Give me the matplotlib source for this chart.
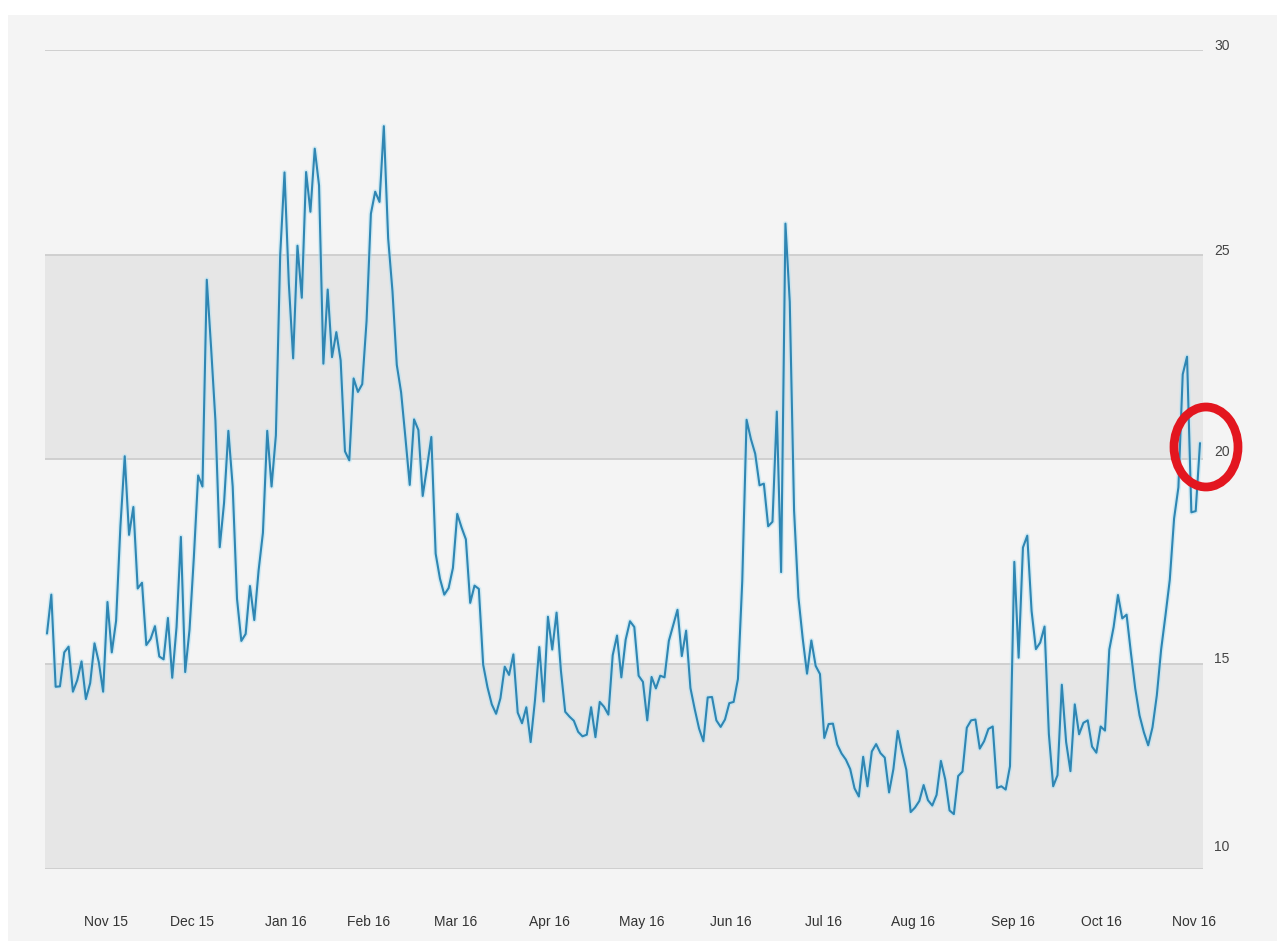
import matplotlib
matplotlib.use("Agg")
import matplotlib.pyplot as plt
from matplotlib.patches import Ellipse, Rectangle
from matplotlib.transforms import blended_transform_factory
import numpy as np

# Daily index closes, one list per calendar month (trading days only)
oct15 = [15.75, 16.70, 14.45, 14.46, 15.29, 15.43, 14.33, 14.61, 15.07]
nov15 = [14.15, 14.54, 15.51, 15.05, 14.33, 16.52, 15.29, 16.06, 18.37, 20.08,
         18.16, 18.84, 16.85, 16.99, 15.47, 15.62, 15.93, 15.19, 15.12, 16.13]
dec15 = [14.67, 15.91, 18.11, 14.81, 15.84, 17.60, 19.61, 19.34, 24.39, 22.73,
         20.95, 17.86, 18.94, 20.70, 19.34, 16.60, 15.57, 15.74, 16.91, 16.08,
         17.29, 18.21]
jan16 = [20.70, 19.34, 20.59, 24.99, 27.01, 24.30, 22.47, 25.22, 23.95, 27.02,
         26.05, 27.59, 26.69, 22.34, 24.15, 22.50, 23.11, 22.42, 20.20]
feb16 = [19.98, 21.98, 21.65, 21.84, 23.38, 26.00, 26.54, 26.29, 28.14, 25.40,
         24.11, 22.31, 21.64, 20.53, 19.38, 20.98, 20.72, 19.11, 19.81, 20.55]
mar16 = [17.70, 17.09, 16.70, 16.86, 17.35, 18.67, 18.34, 18.05, 16.50, 16.92,
         16.84, 14.99, 14.44, 14.02, 13.79, 14.17, 14.94, 14.74, 15.24, 13.82,
         13.56, 13.95]
apr16 = [13.10, 14.12, 15.42, 14.09, 16.16, 15.36, 16.26, 14.85, 13.84, 13.72,
         13.62, 13.35, 13.24, 13.28, 13.95, 13.22, 14.08, 13.96, 13.77, 15.22,
         15.70]
may16 = [14.68, 15.60, 16.05, 15.91, 14.72, 14.57, 13.63, 14.69, 14.41, 14.72,
         14.68, 15.57, 15.95, 16.33, 15.20, 15.82, 14.42, 13.90, 13.43, 13.12,
         14.19]
jun16 = [14.20, 13.63, 13.47, 13.65, 14.05, 14.08, 14.64, 17.03, 20.97, 20.50,
         20.14, 19.37, 19.41, 18.37, 18.48, 21.17, 17.25, 25.76, 23.85, 18.75,
         16.64, 15.63]
jul16 = [14.77, 15.58, 14.96, 14.76, 13.20, 13.54, 13.55, 13.04, 12.82, 12.67,
         12.44, 11.97, 11.77, 12.74, 12.02, 12.87, 13.05, 12.83, 12.72, 11.87]
aug16 = [12.44, 13.37, 12.86, 12.42, 11.39, 11.50, 11.66, 12.05, 11.68, 11.55,
         11.81, 12.64, 12.19, 11.43, 11.34, 12.27, 12.38, 13.45, 13.63, 13.65,
         12.94, 13.12, 13.42]
sep16 = [13.48, 11.98, 12.02, 11.94, 12.51, 17.50, 15.16, 17.85, 18.14, 16.30,
         15.37, 15.53, 15.92, 13.30, 12.02, 12.29, 14.50, 13.10, 12.39, 14.02,
         13.29]
oct16 = [13.57, 13.63, 12.99, 12.84, 13.48, 13.38, 15.36, 15.91, 16.69, 16.12,
         16.21, 15.28, 14.41, 13.75, 13.34, 13.02, 13.46, 14.24, 15.36, 16.19,
         17.06]
nov16 = [18.56, 19.32, 22.08, 22.51, 18.71, 18.74, 20.40]

month_series = [oct15, nov15, dec15, jan16, feb16, mar16, apr16, may16,
                jun16, jul16, aug16, sep16, oct16, nov16]
month_labels = ["Oct 15", "Nov 15", "Dec 15", "Jan 16", "Feb 16", "Mar 16",
                "Apr 16", "May 16", "Jun 16", "Jul 16", "Aug 16", "Sep 16",
                "Oct 16", "Nov 16"]

y_ticks = [10, 15, 20, 25, 30]

values = np.concatenate([np.asarray(m, dtype=float) for m in month_series])
x = np.arange(len(values))
month_start = np.cumsum([0] + [len(m) for m in month_series[:-1]])

W, H = 1282, 946
fig = plt.figure(figsize=(W / 100, H / 100), dpi=100, facecolor="white")

# light grey panel behind everything
fig.patches.append(Rectangle((8 / W, 1 - 941 / H), (1277 - 8) / W, (941 - 15) / H,
                             transform=fig.transFigure, facecolor="#f4f4f4",
                             edgecolor="none", zorder=-5))

ax_left, ax_right = 45, 1203
ax_top, ax_bottom = 50, 869
ax = fig.add_axes([ax_left / W, 1 - ax_bottom / H,
                   (ax_right - ax_left) / W, (ax_bottom - ax_top) / H])
ax.set_facecolor("none")
for s in ax.spines.values():
    s.set_visible(False)
ax.set_xticks([])
ax.set_yticks([])

n = len(values)
px_per_day = (1200 - 47) / (n - 1)
ax.set_xlim(-(47 - ax_left) / px_per_day, (n - 1) + (ax_right - 1200) / px_per_day)
ax.set_ylim(10, 30)

# alternating bands and horizontal rules
ax.axhspan(10, 15, color="#e6e6e6", lw=0, zorder=1)
ax.axhspan(20, 25, color="#e6e6e6", lw=0, zorder=1)
for v in y_ticks:
    ax.axhline(v, color="#cdcdcd", lw=1.3, zorder=2)

# series, with a soft halo underneath
ax.plot(x, values, color="#b5e2f3", lw=3.6, alpha=0.55, zorder=3,
        solid_joinstyle="round", solid_capstyle="round")
ax.plot(x, values, color="#2f86b3", lw=1.5, zorder=4,
        solid_joinstyle="round", solid_capstyle="round")

font = ["Liberation Sans", "DejaVu Sans"]

# right-hand value labels
px_to_val = 20 / (ax_bottom - ax_top)
label_lift = {10: 22, 15: 5, 20: 7, 25: 4, 30: 4}
tr_y = blended_transform_factory(fig.transFigure, ax.transData)
for v in y_ticks:
    ax.text(1222 / W, v + label_lift[v] * px_to_val, str(v), transform=tr_y,
            ha="center", va="center", fontsize=10, color="#444444",
            family=font, zorder=5, clip_on=False)

# month labels along the bottom, starting at each month's first trading day
tr_x = blended_transform_factory(ax.transData, fig.transFigure)
for lab, start in zip(month_labels[1:], month_start[1:]):
    ax.text(start - 2 / px_per_day, 1 - 922 / H, lab, transform=tr_x,
            ha="left", va="center", fontsize=10, color="#333333",
            family=font, clip_on=False)

# red highlight ring round the latest reading
fig.patches.append(Ellipse((1206 / W, 1 - 447 / H), 64 / W, 80 / H,
                           transform=fig.transFigure, fill=False,
                           edgecolor="#e3161f", lw=6.3, zorder=10))

fig.savefig("out.png", dpi=100, facecolor="white")
